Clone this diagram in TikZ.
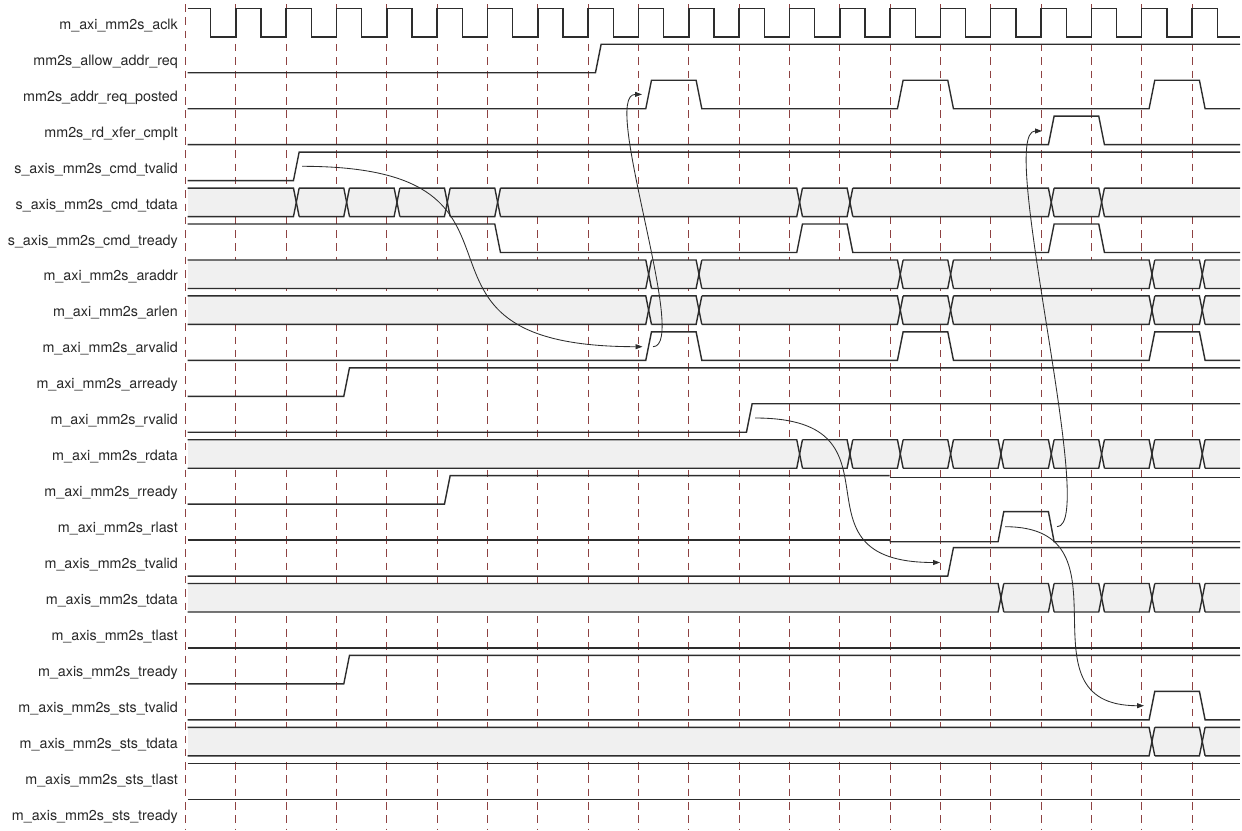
\documentclass[tikz,border=0pt]{standalone}
\usepackage{fontspec}
\setmainfont{TeX Gyre Heros}
\usetikzlibrary{arrows.meta}
\definecolor{wavec}{RGB}{45,45,45}
\definecolor{gridc}{RGB}{142,66,66}
\definecolor{busfill}{RGB}{240,240,240}
\definecolor{txtc}{RGB}{40,40,40}
\newcommand\bitsig[4]{%
  \draw[wave] (187.5,{rowy(#1)+(1-#2)*28.5})
    \foreach \e/\l in {#3} { -- ({edgex(\e)+7.3},{rowy(#1)+\l*28.5}) -- ({edgex(\e)+13},{rowy(#1)+(1-\l)*28.5}) }
    -- (1240,{rowy(#1)+(1-#4)*28.5});}
\newcommand\constsig[2]{%
  \draw[wave] (187.5,{rowy(#1)+(1-#2)*28.5}) -- (1240,{rowy(#1)+(1-#2)*28.5});}
\newcommand\bussig[2]{%
  \fill[busfill] (187.5,{rowy(#1)}) rectangle (1240,{rowy(#1)+28.5});
  \foreach \e in {#2} {
    \fill[white] ({edgex(\e)+7.3},{rowy(#1)}) -- ({edgex(\e)+13},{rowy(#1)}) -- ({edgex(\e)+10.15},{rowy(#1)+14.25}) -- cycle;
    \fill[white] ({edgex(\e)+7.3},{rowy(#1)+28.5}) -- ({edgex(\e)+13},{rowy(#1)+28.5}) -- ({edgex(\e)+10.15},{rowy(#1)+14.25}) -- cycle;
  }
  \draw[wave] (187.5,{rowy(#1)})
    \foreach \e in {#2} { -- ({edgex(\e)+7.3},{rowy(#1)}) -- ({edgex(\e)+13},{rowy(#1)+28.5}) ({edgex(\e)+13},{rowy(#1)}) }
    -- (1240,{rowy(#1)});
  \draw[wave] (187.5,{rowy(#1)+28.5})
    \foreach \e in {#2} { -- ({edgex(\e)+7.3},{rowy(#1)+28.5}) -- ({edgex(\e)+13},{rowy(#1)}) ({edgex(\e)+13},{rowy(#1)+28.5}) }
    -- (1240,{rowy(#1)+28.5});}
\begin{document}
\begin{tikzpicture}[x=1pt,y=-1pt,
  declare function={edgex(\k)=185.5+50.33*\k; rowy(\r)=8.3+35.95*\r;},
  wave/.style={draw=wavec,line width=1.4pt},
  gridline/.style={draw=gridc,line width=0.9pt,dash pattern=on 7.5pt off 5.8pt},
  lbl/.style={anchor=base east,inner sep=0pt,text=txtc,font=\fontsize{14.3}{17}\selectfont},
  conn/.style={draw=wavec,line width=0.85pt,-{Triangle[length=7pt,width=5pt]}}]
\useasboundingbox[fill=white] (0,0) rectangle (1242,830);
% grid
\foreach \k in {0,...,20} \draw[gridline] ({edgex(\k)},4) -- ({edgex(\k)},830);
% labels
\foreach \r/\n in {0/m\_axi\_mm2s\_aclk,1/mm2s\_allow\_addr\_req,2/mm2s\_addr\_req\_posted,3/mm2s\_rd\_xfer\_cmplt,4/s\_axis\_mm2s\_cmd\_tvalid,5/s\_axis\_mm2s\_cmd\_tdata,6/s\_axis\_mm2s\_cmd\_tready,7/m\_axi\_mm2s\_araddr,8/m\_axi\_mm2s\_arlen,9/m\_axi\_mm2s\_arvalid,10/m\_axi\_mm2s\_arready,11/m\_axi\_mm2s\_rvalid,12/m\_axi\_mm2s\_rdata,13/m\_axi\_mm2s\_rready,14/m\_axi\_mm2s\_rlast,15/m\_axis\_mm2s\_tvalid,16/m\_axis\_mm2s\_tdata,17/m\_axis\_mm2s\_tlast,18/m\_axis\_mm2s\_tready,19/m\_axis\_mm2s\_sts\_tvalid,20/m\_axis\_mm2s\_sts\_tdata,21/m\_axis\_mm2s\_sts\_tlast,22/m\_axis\_mm2s\_sts\_tready}
  \node[lbl] (lab\r) at (178,{rowy(\r)+21}) {\n};
% clock
\draw[wave] (187.5,{rowy(0)}) -- ({edgex(0)+25.17},{rowy(0)}) -- ({edgex(0)+25.17},{rowy(0)+28.5})
  \foreach \k in {1,...,20} { -- ({edgex(\k)},{rowy(0)+28.5}) -- ({edgex(\k)},{rowy(0)}) -- ({edgex(\k)+25.17},{rowy(0)}) -- ({edgex(\k)+25.17},{rowy(0)+28.5}) }
  -- (1240,{rowy(0)+28.5});
% signals
\bitsig{1}{0}{8/1}{1}
\bitsig{2}{0}{9/1,10/0,14/1,15/0,19/1,20/0}{0}
\bitsig{3}{0}{17/1,18/0}{0}
\bitsig{4}{0}{2/1}{1}
\bussig{5}{2,3,4,5,6,12,13,17,18}
\bitsig{6}{1}{6/0,12/1,13/0,17/1,18/0}{0}
\bussig{7}{9,10,14,15,19,20}
\bussig{8}{9,10,14,15,19,20}
\bitsig{9}{0}{9/1,10/0,14/1,15/0,19/1,20/0}{0}
\bitsig{10}{0}{3/1}{1}
\bitsig{11}{0}{11/1}{1}
\bussig{12}{12,13,14,15,16,17,18,19,20}
% rready (with small offset after x=889.7)
\draw[wave] (187.5,{rowy(13)+28.5}) -- ({edgex(5)+7.3},{rowy(13)+28.5}) -- ({edgex(5)+13},{rowy(13)}) -- (889.7,{rowy(13)});
\draw[wave] (889.7,{rowy(13)+1.8}) -- (1240,{rowy(13)+1.8});
% rlast
\draw[wave] (187.5,{rowy(14)+28.5}) -- (889.7,{rowy(14)+28.5});
\draw[wave] (889.7,{rowy(14)+30.1}) -- ({edgex(16)+7.3},{rowy(14)+30.1}) -- ({edgex(16)+13},{rowy(14)}) -- ({edgex(17)+7.3},{rowy(14)}) -- ({edgex(17)+13},{rowy(14)+30.1}) -- (1240,{rowy(14)+30.1});
\bitsig{15}{0}{15/1}{1}
\bussig{16}{16,17,18,19,20}
\constsig{17}{0}
\bitsig{18}{0}{3/1}{1}
\bitsig{19}{0}{19/1,20/0}{0}
\bussig{20}{19,20}
\constsig{21}{1}
\constsig{22}{1}
% connector end points
\coordinate (c1s) at (302,166.3);  \coordinate (c1e) at (642.5,346.7);
\coordinate (c2s) at (653,346.7);  \coordinate (c2e) at (642,94.4);
\coordinate (c3s) at (755,418);    \coordinate (c3e) at (940,562.5);
\coordinate (c4s) at (1057,526.7); \coordinate (c4e) at (1042,131);
\coordinate (c5s) at (1005,526.7); \coordinate (c5e) at (1144,705.7);
\draw[conn] (c1s) .. controls +(269,0) and +(-274.5,0) .. (c1e);
\draw[conn] (c2s) .. controls +(37,0) and +(-42,0) .. (c2e);
\draw[conn] (c3s) .. controls +(160,0) and +(-159,0) .. (c3e);
\draw[conn] (c4s) .. controls +(42,0) and +(-46,0) .. (c4e);
\draw[conn] (c5s) .. controls +(133,0) and +(-131,0) .. (c5e);
\end{tikzpicture}
\end{document}
